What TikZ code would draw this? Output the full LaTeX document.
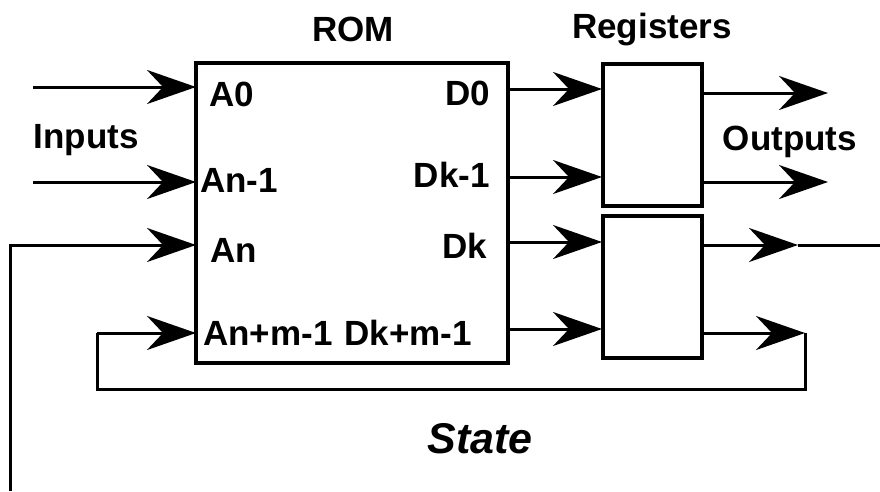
\documentclass[tikz,border=0pt]{standalone}
\usepackage{fontspec}
\setmainfont{Liberation Sans}
\usetikzlibrary{arrows.meta}
\begin{document}
\begin{tikzpicture}[x=1pt,y=-1pt,
  box/.style={draw,line width=3.5pt,inner sep=0pt,outer sep=0pt},
  conn/.style={line width=3pt},
  arr/.style={conn,-{Stealth[length=49pt,width=34pt,inset=16pt]}},
  lbl/.style={inner sep=0pt,font=\fontsize{35}{40}\selectfont\bfseries},
  big/.style={inner sep=0pt,font=\fontsize{43}{48}\selectfont\bfseries\itshape},
  ]
\useasboundingbox (0,0) rectangle (880,491);
% boxes
\node[box,minimum width=312pt,minimum height=300pt] (rom) at (352,213) {};
\node[box,minimum width=99pt,minimum height=142pt] (reg1) at (652.5,135) {};
\node[box,minimum width=99pt,minimum height=142pt] (reg2) at (652.5,287) {};
% ports
\coordinate (iA0) at (196,87);
\coordinate (iAn1) at (196,182);
\coordinate (iAn) at (196,245);
\coordinate (iAnm) at (196,333);
\coordinate (oD0) at (508,89);
\coordinate (oDk1) at (508,177);
\coordinate (oDk) at (508,242);
\coordinate (oDkm) at (508,329);
\coordinate (rA) at (602,89);
\coordinate (rB) at (602,177);
\coordinate (rC) at (602,242);
\coordinate (rD) at (602,329);
\coordinate (qA) at (703,93);
\coordinate (qB) at (703,182);
\coordinate (qC) at (703,245);
\coordinate (qD) at (703,333);
% free ends and corners
\coordinate (s0) at (33,87);
\coordinate (s1) at (33,182);
\coordinate (e1) at (828,93);
\coordinate (e2) at (828,182);
\coordinate (e3) at (798,245);
\coordinate (e3b) at (880,245);
\coordinate (e4) at (805,333);
\coordinate (lb) at (10,491);
\coordinate (lt) at (10,245);
\coordinate (fb1) at (805,389);
\coordinate (fb2) at (97,389);
\coordinate (fb3) at (97,333);
% inputs
\draw[arr] (s0) -- (iA0);
\draw[arr] (s1) -- (iAn1);
\draw[arr] (lb) -- (lt) -- (iAn);
\draw[arr] (fb3) -- (iAnm);
% rom to registers
\draw[arr] (oD0) -- (rA);
\draw[arr] (oDk1) -- (rB);
\draw[arr] (oDk) -- (rC);
\draw[arr] (oDkm) -- (rD);
% register outputs
\draw[arr] (qA) -- (e1);
\draw[arr] (qB) -- (e2);
\draw[arr] (qC) -- (e3);
\draw[conn] (e3) -- (e3b);
\draw[arr] (qD) -- (e4);
\draw[conn,line join=miter] (e4) -- (fb1) -- (fb2) -- (fb3);
% labels
\node[lbl,anchor=base] (tROM) at (353,41) {ROM};
\node[lbl,anchor=base] (tReg) at (652,38) {Registers};
\node[lbl,anchor=base] (tIn) at (86,148) {Inputs};
\node[lbl,anchor=base] (tOut) at (790,150) {Outputs};
\node[big,anchor=base] (tState) at (480,453) {State};
\node[lbl,anchor=base west] (lA0) at (209,106) {A0};
\node[lbl,anchor=base west] (lAn1) at (200,192) {An-1};
\node[lbl,anchor=base west] (lAn) at (210,262) {An};
\node[lbl,anchor=base west] (lAnm) at (203,345) {An+m-1};
\node[lbl,anchor=base east] (lD0) at (490,105) {D0};
\node[lbl,anchor=base east] (lDk1) at (490,187) {Dk-1};
\node[lbl,anchor=base east] (lDk) at (487,258) {Dk};
\node[lbl,anchor=base east] (lDkm) at (472,345) {Dk+m-1};
\end{tikzpicture}
\end{document}
